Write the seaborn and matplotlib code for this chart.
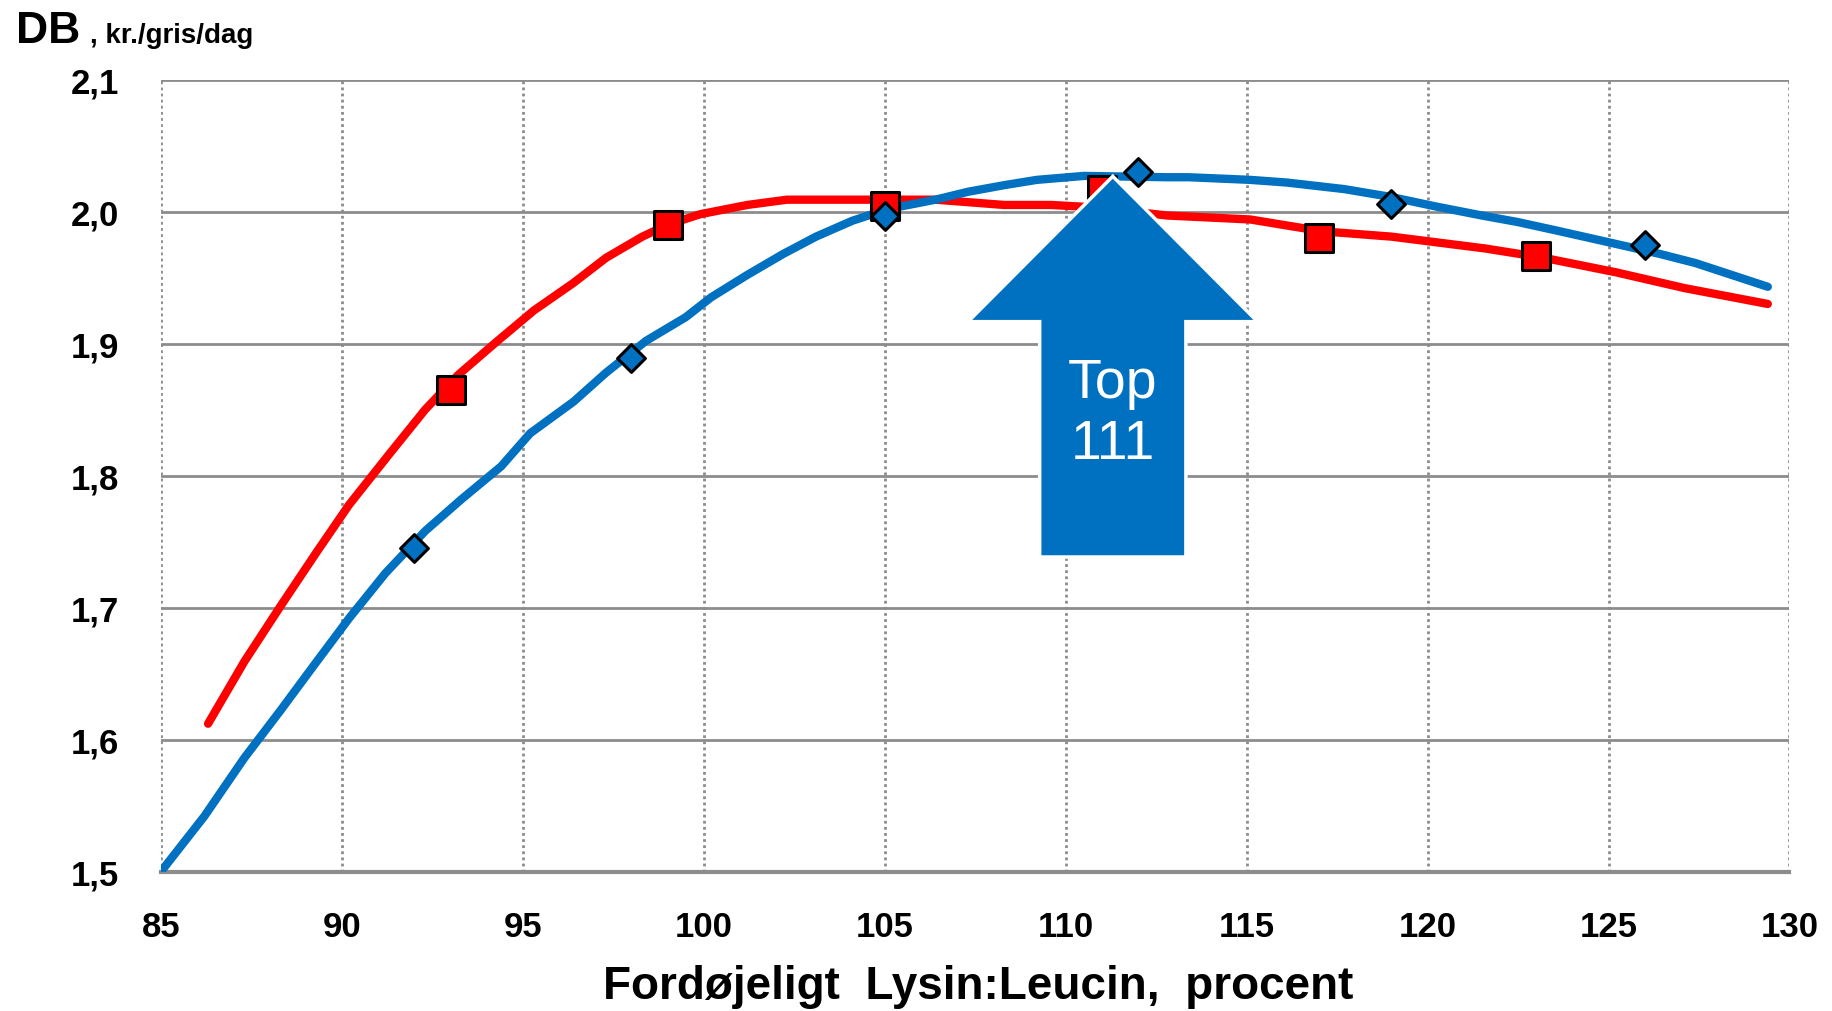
import numpy as np
import pandas as pd
import matplotlib.pyplot as plt
import seaborn as sns
from matplotlib.patches import Polygon
from matplotlib.ticker import FuncFormatter

# ── Data ───────────────────────────────────────────────────
red_x = [86.3, 87.3, 88.3, 89.3, 90.2, 91.3, 92.3, 93.2, 94.3, 95.3, 96.4, 97.3,
         98.3, 99.0, 99.9, 101.2, 102.3, 104.4, 106.4, 108.3, 109.6, 110.9, 112.8,
         115.1, 117.1, 119.0, 121.6, 123.2, 125.2, 127.1, 129.4]
red_y = [1.612, 1.659, 1.701, 1.742, 1.778, 1.816, 1.850, 1.876, 1.902, 1.925, 1.946, 1.965,
         1.981, 1.990, 1.998, 2.005, 2.009, 2.009, 2.009, 2.005, 2.005, 2.003, 1.997,
         1.994, 1.985, 1.981, 1.972, 1.965, 1.954, 1.942, 1.930]
blue_x = [85.0, 86.2, 87.3, 88.3, 89.3, 90.2, 91.2, 92.3, 93.3, 94.4, 95.2, 96.4, 97.3,
          98.4, 99.5, 100.2, 101.2, 102.2, 103.1, 104.1, 105.1, 106.4, 107.3, 108.3,
          109.2, 110.5, 112.8, 113.4, 115.1, 116.1, 117.7, 119.0, 120.2, 121.5, 122.5,
          123.5, 124.8, 126.4, 127.4, 128.4, 129.4]
blue_y = [1.500, 1.542, 1.586, 1.622, 1.659, 1.692, 1.726, 1.758, 1.782, 1.807, 1.832, 1.856, 1.878,
          1.902, 1.920, 1.935, 1.952, 1.968, 1.981, 1.993, 2.002, 2.009, 2.015, 2.020,
          2.024, 2.027, 2.026, 2.026, 2.024, 2.022, 2.017, 2.011, 2.004, 1.997, 1.992,
          1.986, 1.978, 1.968, 1.961, 1.952, 1.943]

red_mark_x = [93, 99, 105, 111, 117, 123]
red_mark_y = [1.865, 1.990, 2.004, 2.016, 1.980, 1.966]
blue_mark_x = [92, 98, 105, 112, 119, 126]
blue_mark_y = [1.745, 1.889, 1.997, 2.030, 2.006, 1.975]

x_ticks = [85, 90, 95, 100, 105, 110, 115, 120, 125, 130]
y_ticks = [1.5, 1.6, 1.7, 1.8, 1.9, 2.0, 2.1]

arrow_x = 111.3       # top of arrow
arrow_label = "Top\n111"

RED = '#FF0000'
BLUE = '#0070C0'

# ── Style ──────────────────────────────────────────────────
sns.set_style('white')
plt.rcParams['font.family'] = ['Liberation Sans', 'DejaVu Sans']
plt.rcParams['text.color'] = 'black'
plt.rcParams['xtick.color'] = 'black'
plt.rcParams['ytick.color'] = 'black'

fig = plt.figure(figsize=(18.32, 10.12), dpi=100)
ax = fig.add_axes([0.0879, 0.1378, 0.8889, 0.7826])

red_df = pd.DataFrame({'x': red_x, 'y': red_y})
blue_df = pd.DataFrame({'x': blue_x, 'y': blue_y})

sns.lineplot(data=red_df, x='x', y='y', color=RED, lw=6, ax=ax,
             sort=False, solid_capstyle='round', solid_joinstyle='round', zorder=3)
sns.lineplot(data=blue_df, x='x', y='y', color=BLUE, lw=6, ax=ax,
             sort=False, solid_capstyle='round', solid_joinstyle='round', zorder=3)
sns.scatterplot(x=red_mark_x, y=red_mark_y, marker='s', s=400, color=RED,
                edgecolor='black', linewidth=2.2, ax=ax, zorder=4)
sns.scatterplot(x=blue_mark_x, y=blue_mark_y, marker='D', s=200, color=BLUE,
                edgecolor='black', linewidth=2.2, ax=ax, zorder=4)

# ── Arrow annotation ───────────────────────────────────────
tip_y, head_y, bottom_y = 2.0267, 1.9166, 1.7383
head_half, shaft_half = 4.0, 2.02
arrow = Polygon([(arrow_x, tip_y), (arrow_x + head_half, head_y),
                 (arrow_x + shaft_half, head_y), (arrow_x + shaft_half, bottom_y),
                 (arrow_x - shaft_half, bottom_y), (arrow_x - shaft_half, head_y),
                 (arrow_x - head_half, head_y)],
                closed=True, facecolor=BLUE, edgecolor='white', lw=2.5, zorder=6)
ax.add_patch(arrow)
ax.text(arrow_x, 1.847, arrow_label, ha='center', va='center', color='white',
        fontsize=40, linespacing=1.22, zorder=7)

# ── Axes ───────────────────────────────────────────────────
ax.set_xlim(85, 130)
ax.set_ylim(1.5, 2.1)
ax.set_xticks(x_ticks)
ax.set_yticks(y_ticks)
ax.yaxis.set_major_formatter(FuncFormatter(lambda v, p: f'{v:.1f}'.replace('.', ',')))
ax.tick_params(axis='both', length=0, labelsize=25)
ax.tick_params(axis='y', pad=30)
ax.tick_params(axis='x', pad=28)
for lab in ax.get_xticklabels() + ax.get_yticklabels():
    lab.set_fontweight('bold')

ax.yaxis.grid(True, color='#8c8c8c', lw=2, ls='-', zorder=0)
ax.xaxis.grid(True, color='#8c8c8c', lw=2, ls=(0, (1, 1.2)), zorder=0)
ax.set_axisbelow(True)
for s in ['left', 'right', 'top']:
    ax.spines[s].set_visible(False)
ax.spines['bottom'].set_color('#8c8c8c')
ax.spines['bottom'].set_linewidth(3)

ax.set_xlabel('')
ax.set_ylabel('')
fig.text(0.534, 0.013, 'Fordøjeligt  Lysin:Leucin,  procent', fontsize=33,
         fontweight='bold', ha='center', va='baseline')

fig.text(0.0085, 0.958, 'DB', fontsize=32, fontweight='bold', va='baseline')
fig.text(0.049, 0.958, ', kr./gris/dag', fontsize=20, fontweight='bold', va='baseline')

plt.savefig('out.png', dpi=100)
